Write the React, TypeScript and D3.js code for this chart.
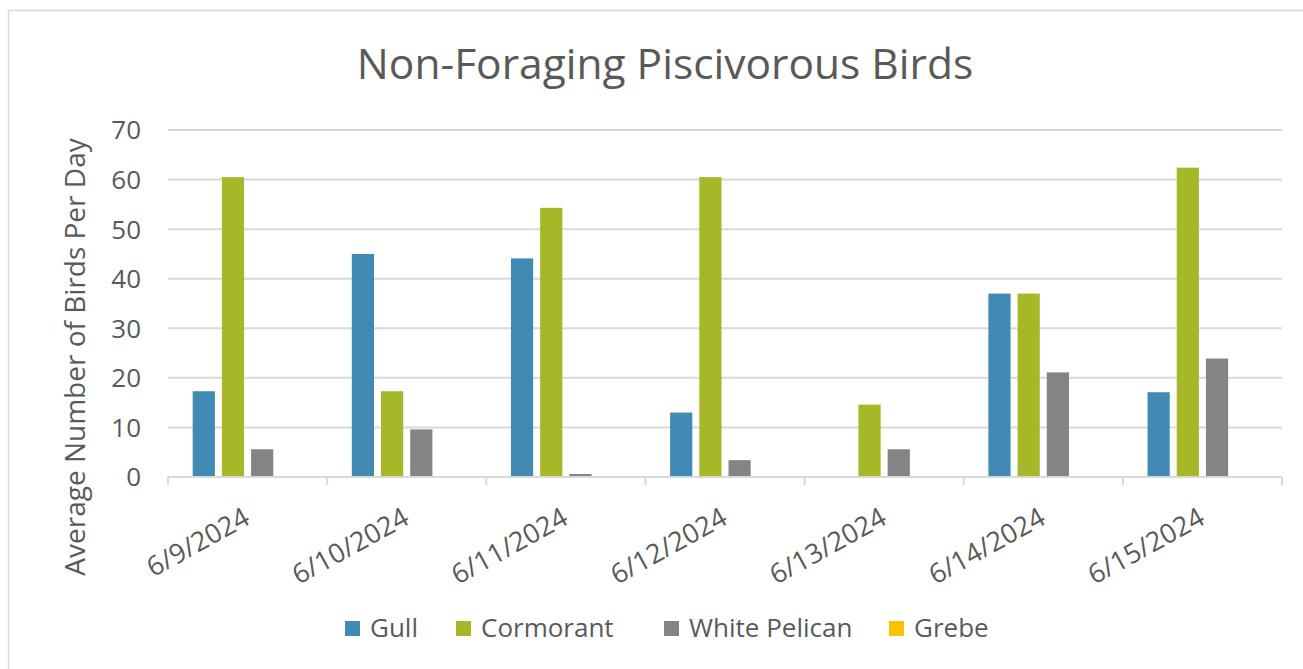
import React from 'react';
import * as d3 from 'd3';

const dates = ['6/9/2024', '6/10/2024', '6/11/2024', '6/12/2024', '6/13/2024', '6/14/2024', '6/15/2024'];
const seriesNames = ['Gull', 'Cormorant', 'White Pelican', 'Grebe'];
const gull = [17.3, 45.0, 44.1, 13.0, 0, 37.0, 17.1];
const cormorant = [60.5, 17.3, 54.3, 60.5, 14.6, 37.0, 62.4];
const whitePelican = [5.6, 9.6, 0.6, 3.4, 5.6, 21.1, 23.9];
const grebe = [0, 0, 0, 0, 0, 0, 0];
const colors = ['#418AB3', '#A6B727', '#848484', '#FEC000'];
const yTicks = [0, 10, 20, 30, 40, 50, 60, 70];

const W = 1303;
const H = 669;
const plot = { left: 168, right: 1282, top: 130, bottom: 477 };
const font = 'Open Sans, sans-serif';
const textColor = '#595959';

export default function App() {
  const values = [gull, cormorant, whitePelican, grebe];

  const x0 = d3.scaleBand<string>()
    .domain(dates)
    .range([plot.left, plot.right])
    .paddingInner(0.31)
    .paddingOuter(0.155);
  const x1 = d3.scaleBand<string>()
    .domain(seriesNames)
    .range([0, x0.bandwidth()])
    .paddingInner(0.24);
  const y = d3.scaleLinear().domain([0, 70]).range([plot.bottom, plot.top]);

  const step = x0.step();
  const tickXs = dates.map((d) => (x0(d) as number) - (step - x0.bandwidth()) / 2);
  tickXs.push(plot.right);

  // legend layout
  const legendX = [345, 456, 664, 889];

  return (
    <svg width={W} height={H} style={{ position: 'absolute', left: 0, top: 0, background: '#fff' }}>
      <rect x={8.5} y={10.5} width={W} height={H} fill="#fff" stroke="#D9D9D9" strokeWidth={1.5} />
      <text x={665} y={79} textAnchor="middle" fontFamily={font} fontSize={42.5} fill={textColor}>
        Non-Foraging Piscivorous Birds
      </text>

      {/* gridlines */}
      {yTicks.map((t) => (
        <line key={t} x1={plot.left} x2={plot.right} y1={y(t)} y2={y(t)} stroke="#D9D9D9" strokeWidth={2} />
      ))}
      {yTicks.map((t) => (
        <text key={'l' + t} x={141} y={y(t)} dy="0.36em" textAnchor="end" fontFamily={font} fontSize={26} fill={textColor}>
          {t}
        </text>
      ))}
      <text
        transform={`translate(85, 357) rotate(-90)`}
        textAnchor="middle"
        fontFamily={font}
        fontSize={28}
        fill={textColor}
      >
        Average Number of Birds Per Day
      </text>

      {/* bars */}
      {values.map((vals, si) =>
        vals.map((v, di) => (
          <rect
            key={si + '-' + di}
            x={(x0(dates[di]) as number) + (x1(seriesNames[si]) as number)}
            y={y(v)}
            width={x1.bandwidth()}
            height={plot.bottom - y(v)}
            fill={colors[si]}
          />
        ))
      )}

      {/* x axis */}
      <line x1={plot.left} x2={plot.right} y1={plot.bottom} y2={plot.bottom} stroke="#D9D9D9" strokeWidth={2} />
      {tickXs.map((tx, i) => (
        <line key={'t' + i} x1={tx} x2={tx} y1={plot.bottom} y2={plot.bottom + 8} stroke="#D9D9D9" strokeWidth={2} />
      ))}
      {dates.map((d) => {
        const cx = (x0(d) as number) + x0.bandwidth() / 2;
        return (
          <text
            key={d}
            transform={`translate(${cx + 4}, ${plot.bottom + 46}) rotate(-29)`}
            textAnchor="end"
            fontFamily={font}
            fontSize={27}
            fill={textColor}
          >
            {d}
          </text>
        );
      })}

      {/* legend */}
      {seriesNames.map((s, i) => (
        <g key={s} transform={`translate(${legendX[i]}, 628)`}>
          <rect x={0} y={-7} width={15} height={15} fill={colors[i]} />
          <text x={25} y={0} dy="0.36em" fontFamily={font} fontSize={26} fill={textColor}>
            {s}
          </text>
        </g>
      ))}
    </svg>
  );
}
